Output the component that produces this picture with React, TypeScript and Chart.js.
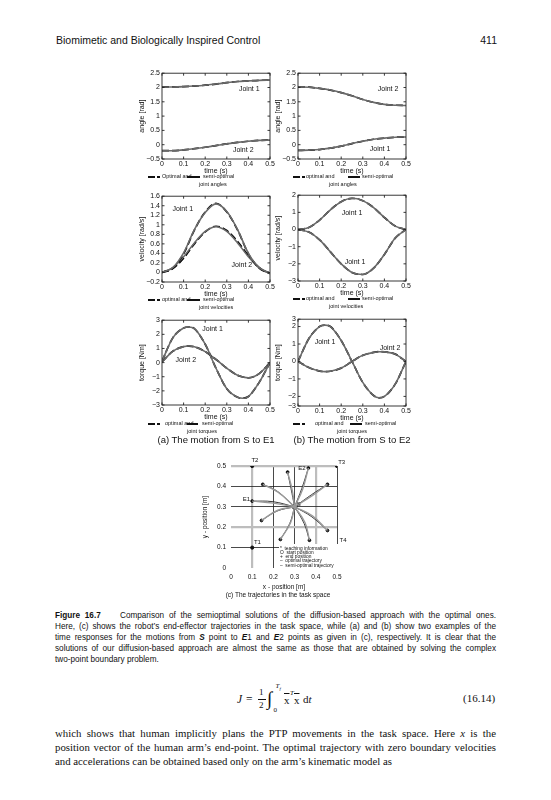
import React, { useEffect, useRef } from "react";
import { Chart, registerables } from "chart.js";
Chart.register(...registerables);

const SANS = '"Liberation Sans", Arial, sans-serif';
const SERIF = '"Liberation Serif", "Times New Roman", serif';
Chart.defaults.font.family = SANS;
Chart.defaults.color = "#111";

// ---------------- data ----------------
const TIME = [0, 0.05, 0.1, 0.15, 0.2, 0.25, 0.3, 0.35, 0.4, 0.45, 0.5];
const TIME_TQ = [0, 0.05, 0.1, 0.125, 0.15, 0.2, 0.25, 0.3, 0.35, 0.375, 0.4, 0.45, 0.5];
const X_TICKS = [0, 0.1, 0.2, 0.3, 0.4, 0.5];
const X_TICK_LABELS = ["0", "0.1", "0.2", "0.3", "0.4", "0.5"];

const ANGLE_TICKS = [-0.5, 0, 0.5, 1, 1.5, 2, 2.5];
const ANGLE_TICK_LABELS = ["−0.5", "0", "0.5", "1", "1.5", "2", "2.5"];
const ANGLE_A_J1 = [2.02, 2.02, 2.03, 2.05, 2.08, 2.12, 2.17, 2.21, 2.23, 2.25, 2.26];
const ANGLE_A_J1_SEMI = [2.02, 2.02, 2.03, 2.05, 2.08, 2.12, 2.17, 2.21, 2.23, 2.25, 2.26];
const ANGLE_A_J2 = [-0.21, -0.21, -0.18, -0.14, -0.09, -0.03, 0.03, 0.08, 0.12, 0.15, 0.16];
const ANGLE_A_J2_SEMI = [-0.21, -0.21, -0.18, -0.14, -0.09, -0.03, 0.03, 0.08, 0.12, 0.15, 0.16];
const ANGLE_B_J1 = [-0.2, -0.19, -0.17, -0.12, -0.05, 0.04, 0.12, 0.19, 0.23, 0.26, 0.27];
const ANGLE_B_J1_SEMI = [-0.2, -0.19, -0.17, -0.12, -0.05, 0.04, 0.12, 0.19, 0.23, 0.26, 0.27];
const ANGLE_B_J2 = [2.02, 2.01, 1.97, 1.91, 1.82, 1.71, 1.58, 1.48, 1.41, 1.38, 1.37];
const ANGLE_B_J2_SEMI = [2.02, 2.01, 1.97, 1.91, 1.82, 1.71, 1.58, 1.48, 1.41, 1.38, 1.37];

const VEL_A_TICKS = [-0.2, 0, 0.2, 0.4, 0.6, 0.8, 1, 1.2, 1.4, 1.6];
const VEL_A_TICK_LABELS = ["−0.2", "0", "0.2", "0.4", "0.6", "0.8", "1", "1.2", "1.4", "1.6"];
const VEL_A_J1 = [0, 0.09, 0.39, 0.89, 1.27, 1.45, 1.27, 0.89, 0.39, 0.09, -0.02];
const VEL_A_J1_SEMI = [0, 0.1, 0.41, 0.9, 1.26, 1.44, 1.28, 0.9, 0.4, 0.1, -0.02];
const VEL_A_J2 = [0, 0.08, 0.3, 0.6, 0.85, 0.97, 0.88, 0.65, 0.35, 0.1, -0.02];
const VEL_A_J2_SEMI = [0, 0.1, 0.33, 0.62, 0.86, 0.96, 0.86, 0.62, 0.33, 0.1, -0.02];

const VEL_B_TICKS = [-3, -2, -1, 0, 1, 2];
const VEL_B_TICK_LABELS = ["−3", "−2", "−1", "0", "1", "2"];
const VEL_B_UP = [0, 0.12, 0.55, 1.15, 1.62, 1.82, 1.68, 1.28, 0.7, 0.2, 0];
const VEL_B_UP_SEMI = [0, 0.12, 0.55, 1.15, 1.62, 1.82, 1.68, 1.28, 0.7, 0.2, 0];
const VEL_B_LOW = [0, -0.15, -0.6, -1.3, -2.0, -2.5, -2.62, -2.25, -1.45, -0.5, 0];
const VEL_B_LOW_SEMI = [0, -0.15, -0.6, -1.3, -2.0, -2.5, -2.62, -2.25, -1.45, -0.5, 0];

const TQ_A_TICKS = [-3, -2, -1, 0, 1, 2, 3];
const TQ_A_TICK_LABELS = ["−3", "−2", "−1", "0", "1", "2", "3"];
const TQ_A_J1 = [0.1, 1.75, 2.45, 2.52, 2.4, 1.3, -0.4, -1.85, -2.45, -2.52, -2.4, -1.4, 0];
const TQ_A_J1_SEMI = [0.1, 1.75, 2.45, 2.52, 2.4, 1.3, -0.4, -1.85, -2.45, -2.52, -2.4, -1.4, 0];
const TQ_A_J2 = [0.05, 0.8, 1.13, 1.17, 1.12, 0.78, 0.22, -0.4, -0.9, -1.02, -1.08, -0.78, 0];
const TQ_A_J2_SEMI = [0.05, 0.8, 1.13, 1.17, 1.12, 0.78, 0.22, -0.4, -0.9, -1.02, -1.08, -0.78, 0];

const TQ_B_TICKS = [-2.55, -2, -1, 0, 1, 2, 2.42];
const TQ_B_TICK_LABELS = ["−3", "−2", "−1", "0", "1", "2", "3"];
const TQ_B_J1 = [0, 1.3, 2.0, 2.08, 2.0, 1.2, 0.0, -1.2, -1.95, -2.08, -2.0, -1.3, 0];
const TQ_B_J1_SEMI = [0, 1.3, 2.0, 2.08, 2.0, 1.2, 0.0, -1.2, -1.95, -2.08, -2.0, -1.3, 0];
const TQ_B_J2 = [0, -0.35, -0.55, -0.58, -0.56, -0.38, 0, 0.35, 0.52, 0.56, 0.55, 0.42, 0];
const TQ_B_J2_SEMI = [0, -0.35, -0.55, -0.58, -0.56, -0.38, 0, 0.35, 0.52, 0.56, 0.55, 0.42, 0];

// task space
const TASK_TICKS = [0, 0.1, 0.2, 0.3, 0.4, 0.5];
const TASK_TICK_LABELS = ["0", "0.1", "0.2", "0.3", "0.4", "0.5"];
const GRID_GRAY_X = [0.1, 0.4];
const GRID_GRAY_Y = [0.2, 0.5];
const TEACH_X = [0.1, 0.1, 0.5, 0.5];
const TEACH_Y = [0.1, 0.5, 0.5, 0.1];
const TEACH_NAMES = ["T1", "T2", "T3", "T4"];
const START_X = 0.3;
const START_Y = 0.3;
const END_X = [0.1, 0.15, 0.267, 0.365, 0.455, 0.455, 0.37, 0.233, 0.144];
const END_Y = [0.328, 0.41, 0.47, 0.49, 0.41, 0.184, 0.136, 0.14, 0.233];
const MID_OPT_X = [0.198, 0.217, 0.283, 0.334, 0.381, 0.381, 0.345, 0.277, 0.217];
const MID_OPT_Y = [0.325, 0.377, 0.39, 0.39, 0.36, 0.251, 0.218, 0.218, 0.279];
const MID_SEMI_X = [0.2, 0.222, 0.288, 0.338, 0.385, 0.384, 0.349, 0.281, 0.221];
const MID_SEMI_Y = [0.318, 0.372, 0.385, 0.386, 0.356, 0.256, 0.223, 0.222, 0.283];

// ---------------- plugins ----------------
const boxPlugin = {
  id: "box",
  afterDraw(chart: any) {
    const { ctx, chartArea: a, scales } = chart;
    ctx.save();
    ctx.strokeStyle = "#222";
    ctx.lineWidth = 0.9;
    ctx.strokeRect(a.left, a.top, a.right - a.left, a.bottom - a.top);
    const L = 2.5;
    ctx.beginPath();
    scales.x.ticks.forEach((t: any) => {
      const px = scales.x.getPixelForValue(t.value);
      ctx.moveTo(px, a.bottom);
      ctx.lineTo(px, a.bottom - L);
      ctx.moveTo(px, a.top);
      ctx.lineTo(px, a.top + L);
    });
    scales.y.ticks.forEach((t: any) => {
      const py = scales.y.getPixelForValue(t.value);
      ctx.moveTo(a.left, py);
      ctx.lineTo(a.left + L, py);
      ctx.moveTo(a.right, py);
      ctx.lineTo(a.right - L, py);
    });
    ctx.stroke();
    ctx.restore();
  },
};

const notesPlugin = {
  id: "notes",
  afterDatasetsDraw(chart: any, _args: any, opts: any) {
    const { ctx, scales } = chart;
    ctx.save();
    ctx.fillStyle = "#111";
    ctx.font = opts.font || `7px ${SANS}`;
    ctx.textBaseline = "middle";
    (opts.items || []).forEach((n: any) => {
      ctx.textAlign = n.align || "center";
      ctx.fillText(n.text, scales.x.getPixelForValue(n.x), scales.y.getPixelForValue(n.y));
    });
    ctx.restore();
  },
};

type Series = { opt: number[]; semi: number[] };
type Note = { x: number; y: number; text: string; align?: string };

const AXIS_W = 24;
const AXIS_H = 16;
const PAD_TOP = 6;
const PAD_RIGHT = 8;

function jointConfig(p: {
  times: number[];
  series: Series[];
  yTicks: number[];
  yLabels: string[];
  yTitle: string;
  notes: Note[];
}) {
  const datasets: any[] = [];
  p.series.forEach((s) => {
    datasets.push({
      data: p.times.map((t, i) => ({ x: t, y: s.semi[i] })),
      borderColor: "#6a6a6a",
      borderWidth: 1.6,
      pointRadius: 0,
      cubicInterpolationMode: "monotone",
    });
    datasets.push({
      data: p.times.map((t, i) => ({ x: t, y: s.opt[i] })),
      borderColor: "#000",
      borderWidth: 1.7,
      borderDash: [7, 3],
      pointRadius: 0,
      cubicInterpolationMode: "monotone",
    });
  });
  const yMin = p.yTicks[0];
  const yMax = p.yTicks[p.yTicks.length - 1];
  return {
    type: "line",
    data: { datasets },
    options: {
      animation: false,
      responsive: false,
      events: [],
      layout: { padding: { top: PAD_TOP, right: PAD_RIGHT, left: 0, bottom: 0 } },
      scales: {
        x: {
          type: "linear",
          min: 0,
          max: 0.5,
          afterBuildTicks: (s: any) => {
            s.ticks = X_TICKS.map((v) => ({ value: v }));
          },
          afterFit: (s: any) => {
            s.height = AXIS_H;
          },
          ticks: {
            autoSkip: false,
            maxRotation: 0,
            padding: 1,
            font: { size: 7 },
            color: "#111",
            callback: (_v: any, i: number) => X_TICK_LABELS[i],
          },
          grid: { display: false, drawTicks: false },
          border: { display: false },
          title: { display: true, text: "time (s)", padding: 0, font: { size: 7 }, color: "#111" },
        },
        y: {
          type: "linear",
          min: yMin,
          max: yMax,
          afterBuildTicks: (s: any) => {
            s.ticks = p.yTicks.map((v) => ({ value: v }));
          },
          afterFit: (s: any) => {
            s.width = AXIS_W;
          },
          ticks: {
            autoSkip: false,
            padding: 2,
            font: { size: 7 },
            color: "#111",
            callback: (_v: any, i: number) => p.yLabels[i],
          },
          grid: { display: false, drawTicks: false },
          border: { display: false },
          title: { display: true, text: p.yTitle, padding: 0, font: { size: 7 }, color: "#111" },
        },
      },
      plugins: {
        legend: { display: false },
        tooltip: { enabled: false },
        notes: { items: p.notes, font: `7px ${SANS}` },
      },
    },
    plugins: [boxPlugin, notesPlugin],
  };
}

function taskConfig() {
  const datasets: any[] = [];
  END_X.forEach((ex, i) => {
    datasets.push({
      data: [
        { x: START_X, y: START_Y },
        { x: MID_SEMI_X[i], y: MID_SEMI_Y[i] },
        { x: ex, y: END_Y[i] },
      ],
      showLine: true,
      borderColor: "#9a9a9a",
      borderWidth: 1.4,
      pointRadius: 0,
      tension: 0.4,
    });
  });
  END_X.forEach((ex, i) => {
    datasets.push({
      data: [
        { x: START_X, y: START_Y },
        { x: MID_OPT_X[i], y: MID_OPT_Y[i] },
        { x: ex, y: END_Y[i] },
      ],
      showLine: true,
      borderColor: "#222",
      borderWidth: 0.9,
      pointRadius: 0,
      tension: 0.4,
    });
  });
  datasets.push({
    data: END_X.map((x, i) => ({ x, y: END_Y[i] })),
    pointRadius: 1.4,
    pointBackgroundColor: "#111",
    pointBorderColor: "#111",
    showLine: false,
  });
  datasets.push({
    data: TEACH_X.map((x, i) => ({ x, y: TEACH_Y[i] })),
    pointRadius: 1.6,
    pointBackgroundColor: "#111",
    pointBorderColor: "#111",
    showLine: false,
  });
  datasets.push({
    data: [{ x: START_X, y: START_Y }],
    pointRadius: 2.4,
    pointBackgroundColor: "#fff",
    pointBorderColor: "#111",
    pointBorderWidth: 1,
    showLine: false,
  });
  const gridColor = (gray: number[]) => (c: any) => {
    const v = c.tick ? c.tick.value : -1;
    if (v === 0) return "rgba(0,0,0,0)";
    return gray.includes(v) ? "#bdbdbd" : "#1a1a1a";
  };
  const gridWidth = (gray: number[]) => (c: any) => {
    const v = c.tick ? c.tick.value : -1;
    return gray.includes(v) ? 2.2 : 0.8;
  };
  const notes: Note[] = [
    { x: 0.108, y: 0.127, text: TEACH_NAMES[0], align: "left" },
    { x: 0.113, y: 0.53, text: TEACH_NAMES[1] },
    { x: 0.522, y: 0.52, text: TEACH_NAMES[2] },
    { x: 0.512, y: 0.137, text: TEACH_NAMES[3], align: "left" },
    { x: 0.31, y: 0.311, text: "S", align: "left" },
    { x: 0.09, y: 0.335, text: "E1", align: "right" },
    { x: 0.352, y: 0.49, text: "E2", align: "right" },
  ];
  return {
    type: "scatter",
    data: { datasets },
    options: {
      animation: false,
      responsive: false,
      events: [],
      layout: { padding: { top: 14, right: 16, left: 0, bottom: 0 } },
      scales: {
        x: {
          type: "linear",
          min: 0,
          max: 0.5,
          afterBuildTicks: (s: any) => {
            s.ticks = TASK_TICKS.map((v) => ({ value: v }));
          },
          afterFit: (s: any) => {
            s.height = 23;
          },
          ticks: {
            autoSkip: false,
            maxRotation: 0,
            padding: 5,
            font: { size: 6.5 },
            color: "#111",
            callback: (_v: any, i: number) => TASK_TICK_LABELS[i],
          },
          grid: { color: gridColor(GRID_GRAY_X), lineWidth: gridWidth(GRID_GRAY_X), drawTicks: false },
          border: { display: false },
          title: { display: true, text: "x - position [m]", padding: 0, font: { size: 6.5 }, color: "#111" },
        },
        y: {
          type: "linear",
          min: 0,
          max: 0.5,
          afterBuildTicks: (s: any) => {
            s.ticks = TASK_TICKS.map((v) => ({ value: v }));
          },
          afterFit: (s: any) => {
            s.width = 30;
          },
          ticks: {
            autoSkip: false,
            padding: 5,
            font: { size: 6.5 },
            color: "#111",
            callback: (_v: any, i: number) => TASK_TICK_LABELS[i],
          },
          grid: { color: gridColor(GRID_GRAY_Y), lineWidth: gridWidth(GRID_GRAY_Y), drawTicks: false },
          border: { display: false },
          title: { display: true, text: "y - position [m]", padding: 0, font: { size: 6.5 }, color: "#111" },
        },
      },
      plugins: {
        legend: { display: false },
        tooltip: { enabled: false },
        notes: { items: notes, font: `6px ${SANS}` },
      },
    },
    plugins: [notesPlugin],
  };
}

// ---------------- components ----------------
function ChartCanvas({ left, top, width, height, make }: any) {
  const ref = useRef<HTMLCanvasElement>(null);
  useEffect(() => {
    const c = new Chart(ref.current as HTMLCanvasElement, make());
    return () => c.destroy();
  }, []);
  return (
    <canvas
      ref={ref}
      width={width}
      height={height}
      style={{ position: "absolute", left, top, width, height }}
    />
  );
}

function JointChart({ plotLeft, plotTop, plotW, plotH, cfg }: any) {
  const left = plotLeft - AXIS_W;
  const top = plotTop - PAD_TOP;
  return (
    <ChartCanvas
      left={left}
      top={top}
      width={AXIS_W + plotW + PAD_RIGHT}
      height={PAD_TOP + plotH + AXIS_H}
      make={() => jointConfig(cfg)}
    />
  );
}

function Txt({ x, y, size, children, family, weight, style, align }: any) {
  const lh = size * 1.3;
  return (
    <div
      style={{
        position: "absolute",
        left: x,
        top: y - lh / 2,
        lineHeight: lh + "px",
        fontSize: size,
        fontFamily: family || SANS,
        fontWeight: weight || "normal",
        whiteSpace: "nowrap",
        color: "#111",
        textAlign: align || "left",
        ...style,
      }}
    >
      {children}
    </div>
  );
}

function Seg({ x, y, w, h }: any) {
  return <div style={{ position: "absolute", left: x, top: y - (h || 1.3) / 2, width: w, height: h || 1.3, background: "#111" }} />;
}

function SmallLegend({ y, dashX, textX, cap, lineX, lineW, semiX, second, secondX }: any) {
  return (
    <>
      <Seg x={dashX} y={y} w={7} />
      <Seg x={dashX + 9} y={y} w={2.5} />
      <Txt x={textX} y={y} size={5.5}>{cap ? "Optimal and" : "optimal and"}</Txt>
      <Seg x={lineX} y={y} w={lineW} h={1.5} />
      <Txt x={semiX} y={y} size={5.5}>semi-optimal</Txt>
      <Txt x={secondX} y={y + 7.5} size={5.5}>{second}</Txt>
    </>
  );
}

function JLine({ y, size, lh, family, last, children }: any) {
  return (
    <div
      style={{
        position: "absolute",
        left: 55,
        width: 441,
        top: y - lh / 2,
        height: lh,
        lineHeight: lh + "px",
        fontSize: size,
        fontFamily: family,
        textAlign: "justify",
        textAlignLast: last ? "left" : "justify",
        color: "#111",
      } as any}
    >
      {children}
    </div>
  );
}

export default function App() {
  const capFs = 8.2;
  const parFs = 10.8;
  return (
    <div style={{ position: "absolute", left: 0, top: 0, width: 551, height: 800, background: "#fff", overflow: "hidden" }}>
      {/* header */}
      <Txt x={56} y={41} size={10.5}>Biomimetic and Biologically Inspired Control</Txt>
      <Txt x={447} y={41} size={10.5} style={{ width: 50, textAlign: "right" }}>411</Txt>

      {/* angles */}
      <JointChart
        plotLeft={162} plotTop={73} plotW={108} plotH={86}
        cfg={{
          times: TIME,
          series: [{ opt: ANGLE_A_J1, semi: ANGLE_A_J1_SEMI }, { opt: ANGLE_A_J2, semi: ANGLE_A_J2_SEMI }],
          yTicks: ANGLE_TICKS, yLabels: ANGLE_TICK_LABELS, yTitle: "angle [rad]",
          notes: [{ x: 0.404, y: 1.94, text: "Joint 1" }, { x: 0.376, y: -0.19, text: "Joint 2" }],
        }}
      />
      <SmallLegend y={177} dashX={148} textX={162} cap lineX={187} lineW={13} semiX={203} second="joint angles" secondX={199} />
      <JointChart
        plotLeft={298} plotTop={73} plotW={108} plotH={86}
        cfg={{
          times: TIME,
          series: [{ opt: ANGLE_B_J1, semi: ANGLE_B_J1_SEMI }, { opt: ANGLE_B_J2, semi: ANGLE_B_J2_SEMI }],
          yTicks: ANGLE_TICKS, yLabels: ANGLE_TICK_LABELS, yTitle: "angle [rad]",
          notes: [{ x: 0.417, y: 1.94, text: "Joint 2" }, { x: 0.38, y: -0.15, text: "Joint 1" }],
        }}
      />
      <SmallLegend y={177} dashX={293} textX={306} lineX={348} lineW={12} semiX={362} second="joint angles" secondX={329} />

      {/* velocities */}
      <JointChart
        plotLeft={162} plotTop={196} plotW={108} plotH={86}
        cfg={{
          times: TIME,
          series: [{ opt: VEL_A_J1, semi: VEL_A_J1_SEMI }, { opt: VEL_A_J2, semi: VEL_A_J2_SEMI }],
          yTicks: VEL_A_TICKS, yLabels: VEL_A_TICK_LABELS, yTitle: "velocity [rad/s]",
          notes: [{ x: 0.096, y: 1.33, text: "Joint 1" }, { x: 0.37, y: 0.15, text: "Joint 2" }],
        }}
      />
      <SmallLegend y={300} dashX={148} textX={162} lineX={187} lineW={13} semiX={203} second="joint velocities" secondX={199} />
      <JointChart
        plotLeft={298} plotTop={195} plotW={108} plotH={86}
        cfg={{
          times: TIME,
          series: [{ opt: VEL_B_UP, semi: VEL_B_UP_SEMI }, { opt: VEL_B_LOW, semi: VEL_B_LOW_SEMI }],
          yTicks: VEL_B_TICKS, yLabels: VEL_B_TICK_LABELS, yTitle: "velocity [rad/s]",
          notes: [{ x: 0.25, y: 0.95, text: "Joint 1" }, { x: 0.264, y: -1.9, text: "Joint 1" }],
        }}
      />
      <SmallLegend y={299} dashX={293} textX={306} lineX={348} lineW={12} semiX={362} second="joint velocities" secondX={329} />

      {/* torques */}
      <JointChart
        plotLeft={162} plotTop={320} plotW={108} plotH={85}
        cfg={{
          times: TIME_TQ,
          series: [{ opt: TQ_A_J1, semi: TQ_A_J1_SEMI }, { opt: TQ_A_J2, semi: TQ_A_J2_SEMI }],
          yTicks: TQ_A_TICKS, yLabels: TQ_A_TICK_LABELS, yTitle: "torque [Nm]",
          notes: [{ x: 0.234, y: 2.36, text: "Joint 1" }, { x: 0.11, y: 0.18, text: "Joint 2" }],
        }}
      />
      <SmallLegend y={424} dashX={148} textX={165} lineX={187} lineW={11} semiX={202} second="joint torques" secondX={187} />
      <JointChart
        plotLeft={298} plotTop={319} plotW={108} plotH={87}
        cfg={{
          times: TIME_TQ,
          series: [{ opt: TQ_B_J1, semi: TQ_B_J1_SEMI }, { opt: TQ_B_J2, semi: TQ_B_J2_SEMI }],
          yTicks: TQ_B_TICKS, yLabels: TQ_B_TICK_LABELS, yTitle: "torque [Nm]",
          notes: [{ x: 0.125, y: 1.1, text: "Joint 1" }, { x: 0.426, y: 0.76, text: "Joint 2" }],
        }}
      />
      <SmallLegend y={424} dashX={293} textX={315} lineX={350} lineW={12} semiX={365} second="joint torques" secondX={337} />

      <Txt x={116} y={440} size={9.5} style={{ width: 200, textAlign: "center" }}>(a) The motion from S to E1</Txt>
      <Txt x={252} y={440} size={9.5} style={{ width: 200, textAlign: "center" }}>(b) The motion from S to E2</Txt>

      {/* task space */}
      <ChartCanvas left={201} top={452} width={152} height={139} make={taskConfig} />
      <div style={{ position: "absolute", left: 279, top: 544, width: 62, height: 24, background: "#fff" }} />
      <Txt x={280} y={549} size={4.8}>*&nbsp; teaching information</Txt>
      <Txt x={280} y={553.2} size={4.8}>O&nbsp; start position</Txt>
      <Txt x={280} y={557.4} size={4.8}>+&nbsp; end position</Txt>
      <Txt x={280} y={561.6} size={4.8}>–&nbsp; optimal trajectory</Txt>
      <Txt x={280} y={565.8} size={4.8}>–&nbsp; semi-optimal trajectory</Txt>
      <Txt x={178} y={595} size={6.5} style={{ width: 200, textAlign: "center" }}>(c) The trajectories in the task space</Txt>

      {/* caption */}
      <JLine y={615} size={capFs} lh={11} family={SANS}>
        <b>Figure 16.7</b>&nbsp;&nbsp;&nbsp; Comparison of the semioptimal solutions of the diffusion-based approach with the optimal ones.
      </JLine>
      <JLine y={626} size={capFs} lh={11} family={SANS}>
        Here, (c) shows the robot’s end-effector trajectories in the task space, while (a) and (b) show two examples of the
      </JLine>
      <JLine y={637} size={capFs} lh={11} family={SANS}>
        time responses for the motions from <b><i>S</i></b> point to <b><i>E</i></b>1 and <b><i>E</i></b>2 points as given in (c), respectively. It is clear that the
      </JLine>
      <JLine y={648} size={capFs} lh={11} family={SANS}>
        solutions of our diffusion-based approach are almost the same as those that are obtained by solving the complex
      </JLine>
      <JLine y={659} size={capFs} lh={11} family={SANS} last>
        two-point boundary problem.
      </JLine>

      {/* equation */}
      <Txt x={237} y={699} size={11.5} family={SERIF}><i>J</i></Txt>
      <Txt x={246} y={699} size={11.5} family={SERIF}>=</Txt>
      <Txt x={259} y={693} size={9} family={SERIF}>1</Txt>
      <div style={{ position: "absolute", left: 257.5, top: 699, width: 8, height: 0.7, background: "#111" }} />
      <Txt x={259} y={705.5} size={9} family={SERIF}>2</Txt>
      <Txt x={267} y={699} size={19} family={SERIF}>∫</Txt>
      <Txt x={275.5} y={687} size={7} family={SERIF}><i>T</i></Txt>
      <Txt x={279.5} y={689} size={5} family={SERIF}><i>f</i></Txt>
      <Txt x={273.5} y={711} size={7} family={SERIF}>0</Txt>
      <Txt x={284} y={700} size={11} family={SERIF} style={{ textDecoration: "overline" }}>x</Txt>
      <Txt x={290} y={694} size={7} family={SERIF}><i>T</i></Txt>
      <Txt x={294} y={700} size={11} family={SERIF} style={{ textDecoration: "overline" }}>x</Txt>
      <Txt x={303} y={699} size={11} family={SERIF}>d<i>t</i></Txt>
      <Txt x={463} y={698} size={11} family={SERIF}>(16.14)</Txt>

      {/* paragraph */}
      <JLine y={734} size={parFs} lh={13.7} family={SERIF}>
        which shows that human implicitly plans the PTP movements in the task space. Here <i>x</i> is the
      </JLine>
      <JLine y={748} size={parFs} lh={13.7} family={SERIF}>
        position vector of the human arm’s end-point. The optimal trajectory with zero boundary velocities
      </JLine>
      <JLine y={762} size={parFs} lh={13.7} family={SERIF} last>
        and accelerations can be obtained based only on the arm’s kinematic model as
      </JLine>
    </div>
  );
}
